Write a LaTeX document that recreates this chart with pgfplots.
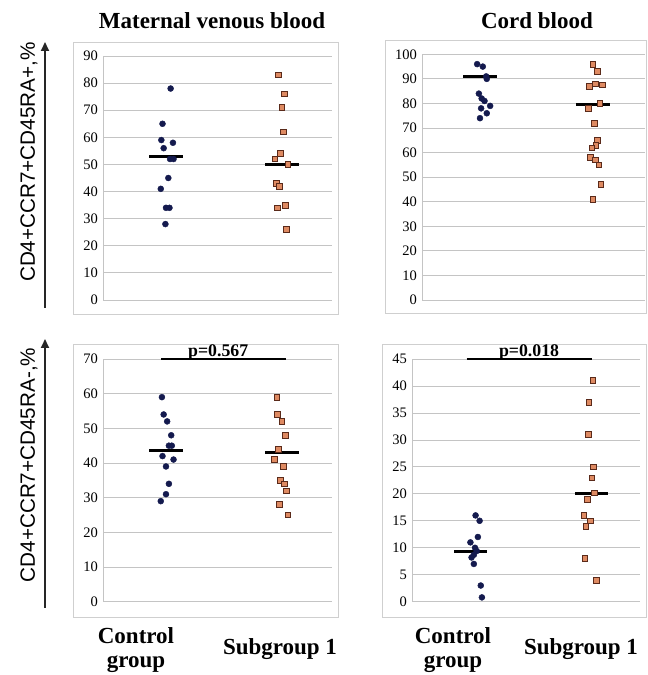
\documentclass[border=0pt]{standalone}
\usepackage{fontspec}
\setmainfont{Liberation Serif}
\newfontfamily\arialf{Liberation Sans}
\usepackage{pgfplots}
\pgfplotsset{compat=1.18}
\usetikzlibrary{arrows.meta}
\definecolor{navy}{HTML}{141A4E}
\definecolor{salmon}{HTML}{DE8A62}
\definecolor{sqedge}{HTML}{5A2A1A}
\definecolor{gridc}{HTML}{C4C4C4}
\definecolor{framec}{HTML}{CFCFCF}
\pgfplotsset{
  panel/.style={
    scale only axis, anchor=south west, clip=false,
    ymin=0, xtick=\empty,
    axis x line*=bottom, axis y line*=left,
    axis line style={-, draw=gridc, line width=0.8pt},
    ymajorgrids, grid style={draw=gridc, line width=0.8pt},
    major tick length=0pt,
    /pgf/number format/assume math mode=true,
    yticklabel style={font=\fontsize{14.5}{14.5}\selectfont, inner sep=0pt, xshift=-5pt},
  },
  ctrl/.style={only marks, mark=*, mark size=3pt, color=navy},
  subg/.style={only marks, mark=square*, mark size=2.8pt, mark options={fill=salmon, draw=sqedge, line width=0.7pt}},
  med/.style={black, line width=3pt, no marks},
  pbar/.style={black, line width=2.2pt, no marks},
}
\begin{document}
\begin{tikzpicture}
\path[use as bounding box] (0pt,0pt) rectangle (648pt,675pt);
% frames
\draw[framec, line width=0.9pt] (73pt,361pt) rectangle (338pt,633pt);
\draw[framec, line width=0.9pt] (385pt,362pt) rectangle (646pt,635pt);
\draw[framec, line width=0.9pt] (73pt,58pt) rectangle (338pt,331pt);
\draw[framec, line width=0.9pt] (382pt,58pt) rectangle (646pt,331pt);
% titles
\node[anchor=base, font=\fontsize{23}{23}\selectfont\bfseries] at (212pt,646pt) {Maternal venous blood};
\node[anchor=base, font=\fontsize{23}{23}\selectfont\bfseries] at (537pt,646pt) {Cord blood};
% y labels and arrows
\node[anchor=base, rotate=90, font=\arialf\fontsize{20.7}{20.7}\selectfont] at (35pt,513pt) {CD4+CCR7+CD45RA+,\%};
\node[anchor=base, rotate=90, font=\arialf\fontsize{20.7}{20.7}\selectfont] at (35pt,210pt) {CD4+CCR7+CD45RA-,\%};
\draw[line width=1.8pt, draw=black!85, -{Triangle[length=9pt,width=8pt]}] (45pt,367pt) -- (45pt,633pt);
\draw[line width=1.8pt, draw=black!85, -{Triangle[length=9pt,width=8pt]}] (45pt,67pt) -- (45pt,336pt);
% bottom labels
\node[anchor=base, inner sep=0pt, font=\fontsize{23}{23}\selectfont\bfseries] at (136pt,31pt) {Control};
\node[anchor=base, inner sep=0pt, font=\fontsize{23}{23}\selectfont\bfseries] at (136pt,8pt) {group};
\node[anchor=base, inner sep=0pt, font=\fontsize{23}{23}\selectfont\bfseries] at (280pt,20pt) {Subgroup 1};
\node[anchor=base, inner sep=0pt, font=\fontsize{23}{23}\selectfont\bfseries] at (453pt,31pt) {Control};
\node[anchor=base, inner sep=0pt, font=\fontsize{23}{23}\selectfont\bfseries] at (453pt,8pt) {group};
\node[anchor=base, inner sep=0pt, font=\fontsize{23}{23}\selectfont\bfseries] at (581pt,20pt) {Subgroup 1};

% Panel 1
\begin{axis}[panel, at={(103pt,375pt)}, width=229pt, height=244pt,
  xmin=0.457, xmax=2.431, ymax=90, ytick={0,10,...,90}]
\addplot[ctrl] coordinates {(1.04,78) (0.97,65) (0.96,59) (1.06,58) (0.98,56) (1.035,52) (1.065,52) (1.02,45) (0.955,41) (1.0,34) (1.03,34) (0.995,28)};
\addplot[subg] coordinates {(1.97,83) (2.02,76) (2.0,71) (2.01,62) (1.985,54) (1.94,52) (2.05,50) (1.95,43) (1.975,42) (1.96,34) (2.03,35) (2.035,26)};
\addplot[med] coordinates {(0.855,53) (1.145,53)};
\addplot[med] coordinates {(1.855,50) (2.145,50)};
\end{axis}

% Panel 2
\begin{axis}[panel, at={(422pt,375pt)}, width=223pt, height=245.7pt,
  xmin=0.487, xmax=2.46, ymax=100, ytick={0,10,...,100}]
\addplot[ctrl] coordinates {(0.975,96) (1.025,95) (1.055,91) (1.06,90) (0.99,84) (1.015,82) (1.04,81) (1.09,79) (1.01,78) (1.06,76) (1.0,74)};
\addplot[subg] coordinates {(2.0,96) (2.04,93) (2.02,88) (2.085,87.5) (1.97,87) (2.06,80) (1.96,78) (2.01,72) (2.04,65) (2.025,63) (1.99,62) (1.975,58) (2.02,57) (2.05,55) (2.07,47) (2.0,41)};
\addplot[med] coordinates {(0.853,91) (1.147,91)};
\addplot[med] coordinates {(1.853,79.7) (2.147,79.7)};
\end{axis}

% Panel 3
\begin{axis}[panel, at={(103pt,73.3pt)}, width=229pt, height=242.7pt,
  xmin=0.457, xmax=2.431, ymax=70, ytick={0,10,...,70}]
\addplot[ctrl] coordinates {(0.965,59) (0.98,54) (1.01,52) (1.045,48) (1.025,45) (1.05,45) (0.97,42) (1.065,41) (1.0,39) (1.025,34) (1.0,31) (0.955,29)};
\addplot[subg] coordinates {(1.955,59) (1.96,54) (2.0,52) (2.03,48) (1.97,44) (1.935,41) (2.01,39) (1.985,35) (2.02,34) (2.035,32) (1.975,28) (2.05,25)};
\addplot[med] coordinates {(0.855,43.6) (1.145,43.6)};
\addplot[med] coordinates {(1.855,43.1) (2.145,43.1)};
\addplot[pbar] coordinates {(0.957,70) (2.037,70)};
\node[anchor=base, font=\fontsize{17.8}{17.8}\selectfont\bfseries, inner sep=0pt] at (axis cs:1.45,70) [yshift=3pt] {p=0.567};
\end{axis}

% Panel 4
\begin{axis}[panel, at={(412pt,73.3pt)}, width=228pt, height=242.7pt,
  xmin=0.437, xmax=2.42, ymax=45, ytick={0,5,...,45}]
\addplot[ctrl] coordinates {(0.99,16) (1.025,15) (1.01,12) (0.945,11) (0.985,10) (1.0,9.4) (0.975,8.7) (0.955,8.2) (0.975,7) (1.035,3) (1.045,0.8)};
\addplot[subg] coordinates {(2.01,41) (1.975,37) (1.97,31) (2.015,25) (2.0,23) (2.025,20.2) (1.96,19) (1.93,16) (1.99,15) (1.95,14) (1.94,8) (2.04,4)};
\addplot[med] coordinates {(0.803,9.4) (1.09,9.4)};
\addplot[med] coordinates {(1.855,20.1) (2.145,20.1)};
\addplot[pbar] coordinates {(0.913,45) (2.0,45)};
\node[anchor=base, font=\fontsize{17.8}{17.8}\selectfont\bfseries, inner sep=0pt] at (axis cs:1.455,45) [yshift=3pt] {p=0.018};
\end{axis}
\end{tikzpicture}
\end{document}
